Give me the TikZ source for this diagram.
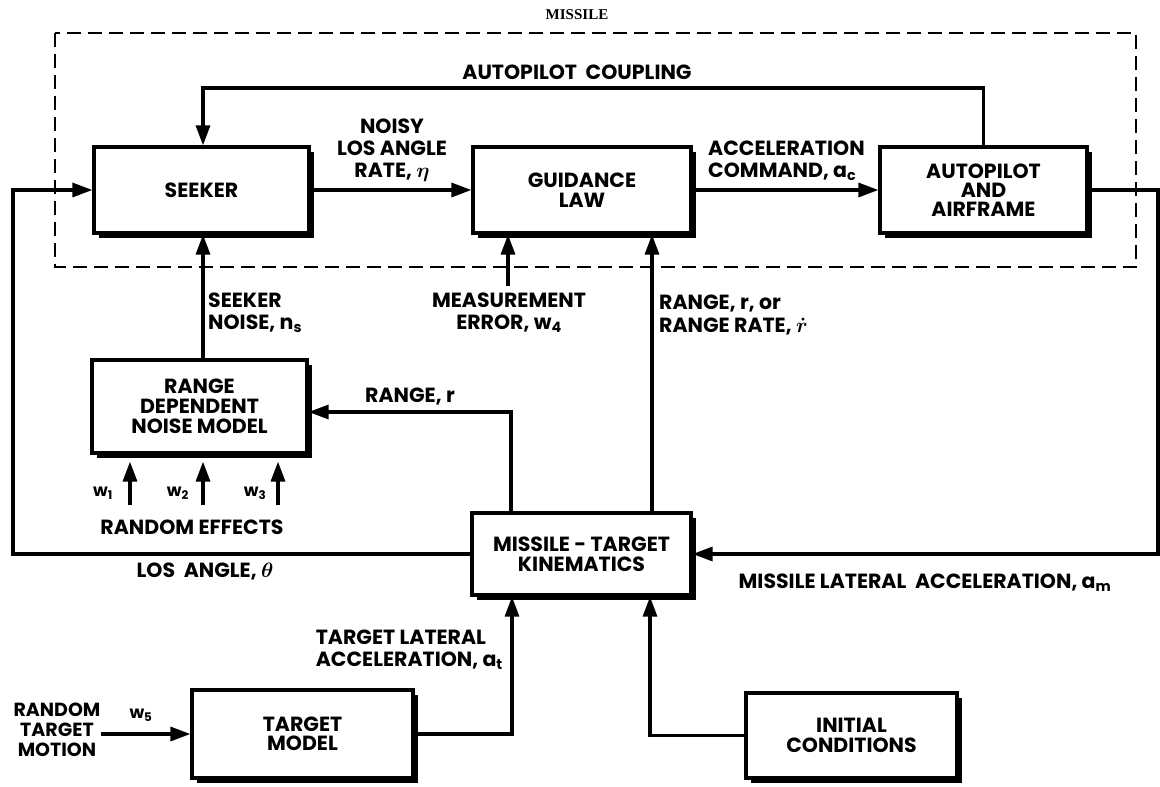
\documentclass[tikz,border=0pt]{standalone}
\usepackage{fontspec}
\setmainfont{Poppins}
\newfontfamily\titlefont{Liberation Serif}
\usetikzlibrary{arrows.meta,shadows}
\tikzset{
  blk/.style={draw, line width=3.2pt, fill=white, align=center, inner sep=2pt,
    drop shadow={shadow xshift=4.5pt, shadow yshift=-4.5pt, opacity=1, fill=black}},
  arr/.style={line width=3.2pt, -{Triangle[length=20pt,width=14pt]}},
  lbl/.style={inner sep=0pt, align=center},
  lbll/.style={lbl, align=left},
  small/.style={inner sep=0pt, font=\bfseries\fontsize{17}{18}\selectfont},
  missbox/.style={draw, line width=2.8pt, dash pattern=on 14pt off 7pt}
}
\newcommand{\sbs}[1]{\textsubscript{#1}}
\begin{document}
\begin{tikzpicture}[x=1pt,y=-1pt]
\useasboundingbox (0,0) rectangle (1160,787);
\tikzset{every node/.append style={font=\bfseries\boldmath\fontsize{20.5}{22}\selectfont}}
% missile dashed boundary
\draw[missbox] (55,33) rectangle (1136,267);
\node[inner sep=0pt, font=\titlefont\bfseries\fontsize{15}{16}\selectfont] (mtitle) at (577,15) {MISSILE};

% blocks
\node[blk, minimum width=215pt, minimum height=86pt] (seeker) at (201.5,190) {SEEKER};
\node[blk, minimum width=218pt, minimum height=86pt] (guid) at (582,190) {GUIDANCE\\[-2pt]LAW};
\node[blk, minimum width=207pt, minimum height=86pt] (auto) at (983.5,190) {AUTOPILOT\\[-3pt]AND\\[-3pt]AIRFRAME};
\node[blk, minimum width=215pt, minimum height=93pt] (noise) at (199.5,406.5) {RANGE\\[-2pt]DEPENDENT\\[-2pt]NOISE MODEL};
\node[blk, minimum width=219pt, minimum height=82pt] (kin) at (581.5,554) {MISSILE - TARGET\\[-2pt]KINEMATICS};
\node[blk, minimum width=221pt, minimum height=88pt] (target) at (302.5,734) {TARGET\\[-3pt]MODEL};
\node[blk, minimum width=211pt, minimum height=85pt] (init) at (851.5,735.5) {INITIAL\\[-2pt]CONDITIONS};

% helper coordinates
\coordinate (cplL) at (203,88);
\coordinate (rEdge) at (1158,554);
\coordinate (lTop) at (13,190);
\coordinate (rngC) at (511,412);
\coordinate (rr) at (652,300);
\coordinate (me) at (508,286);
\coordinate (w1) at (130,505);
\coordinate (w2) at (203,505);
\coordinate (w3) at (278,505);
\coordinate (ta) at (512,650);
\coordinate (icx) at (650,650);

% connectors
\draw[arr] (auto.north) |- (cplL) -- (cplL |- seeker.north);
\draw[arr] (seeker.east) -- (guid.west);
\draw[arr] (guid.east) -- (auto.west);
\draw[arr] (auto.east) -| (rEdge) -- (kin.east);
\draw[arr] (kin.west) -| (lTop) -- (seeker.west);
\draw[arr] (noise.north -| cplL) -- (cplL |- seeker.south);
\draw[arr] (rngC |- kin.north) -- (rngC) -- (noise.east |- rngC);
\draw[arr] (rr |- kin.north) -- (rr |- guid.south);
\draw[arr] (me) -- (me |- guid.south);
\draw[arr, shorten >=7pt] (w1) -- (w1 |- noise.south);
\draw[arr, shorten >=7pt] (w2) -- (w2 |- noise.south);
\draw[arr, shorten >=7pt] (w3) -- (w3 |- noise.south);
\draw[arr] (target.east) -| (ta |- kin.south);
\draw[arr] (init.west) -| (icx |- kin.south);

% labels
\node[lbl] (lcpl) at (577,72) {AUTOPILOT\ \ COUPLING};
\node[lbl] (lnoisy) at (392,150) {NOISY\\LOS ANGLE\\RATE, $\eta$};
\node[lbll, anchor=west] (lacc) at (708,161) {ACCELERATION\\COMMAND, a\sbs{c}};
\node[lbll, anchor=west] (lsn) at (208,313) {SEEKER\\NOISE, n\sbs{s}};
\node[lbl] (lme) at (509,313) {MEASUREMENT\\ERROR, w\sbs{4}};
\node[lbll, anchor=west] (lrr) at (659,315) {RANGE, r, or\\[1pt]RANGE RATE, $\dot{r}$};
\node[lbl] (lrng) at (410,397) {RANGE, r};
\node[small] (lw1) at (103,493) {w\sbs{1}};
\node[small] (lw2) at (178,493) {w\sbs{2}};
\node[small] (lw3) at (255,493) {w\sbs{3}};
\node[lbl] (lre) at (192,527) {RANDOM EFFECTS};
\node[lbl] (llos) at (205,572) {LOS\ \ ANGLE, $\theta$};
\node[lbl] (lmla) at (925,583) {MISSILE\ LATERAL\ \ ACCELERATION, a\sbs{m}};
\node[lbll, anchor=east] (ltla) at (503,650) {TARGET LATERAL\\ACCELERATION, a\sbs{t}};
\node[lbl, font=\bfseries\fontsize{19}{20}\selectfont] (lrtm) at (57,730) {RANDOM\\TARGET\\MOTION};
\node[small] (lw5) at (141,715) {w\sbs{5}};
\draw[arr] (lrtm.east |- target.west) -- (target.west);
\end{tikzpicture}
\end{document}
